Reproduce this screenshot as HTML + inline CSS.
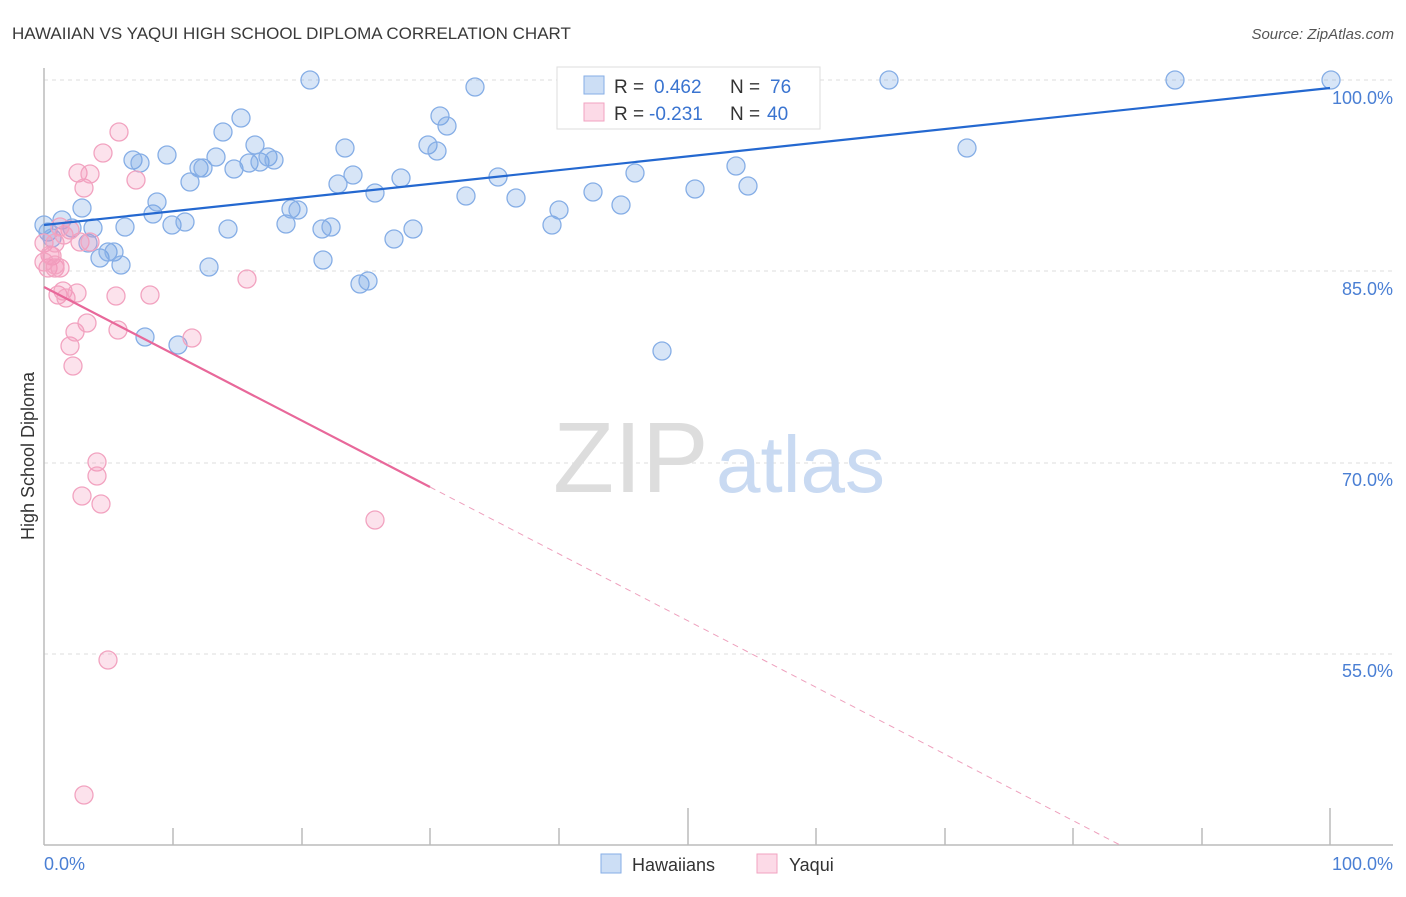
<!DOCTYPE html>
<html><head><meta charset="utf-8"><style>
body{margin:0;background:#fff;}
svg text{font-family:"Liberation Sans",sans-serif;}
</style></head><body>
<svg width="1406" height="892" xmlns="http://www.w3.org/2000/svg">
<rect width="1406" height="892" fill="#fff"/>
<text x="12" y="39" font-size="17" fill="#3a3a3a">HAWAIIAN VS YAQUI HIGH SCHOOL DIPLOMA CORRELATION CHART</text>
<text x="1394" y="39" font-size="15" fill="#555" text-anchor="end" font-style="italic">Source: ZipAtlas.com</text>
<g stroke="#ddd" stroke-dasharray="4,4" stroke-width="1">
<line x1="44" y1="80" x2="1393" y2="80"/><line x1="44" y1="271" x2="1393" y2="271"/>
<line x1="44" y1="463" x2="1393" y2="463"/><line x1="44" y1="654" x2="1393" y2="654"/>
</g>
<g stroke="#bbb" stroke-width="1.5">
<line x1="44" y1="68" x2="44" y2="845"/><line x1="44" y1="845" x2="1393" y2="845"/>
<line x1="173" y1="828" x2="173" y2="845"/><line x1="302" y1="828" x2="302" y2="845"/><line x1="430" y1="828" x2="430" y2="845"/><line x1="559" y1="828" x2="559" y2="845"/><line x1="688" y1="808" x2="688" y2="845"/><line x1="816" y1="828" x2="816" y2="845"/><line x1="945" y1="828" x2="945" y2="845"/><line x1="1073" y1="828" x2="1073" y2="845"/><line x1="1202" y1="828" x2="1202" y2="845"/><line x1="1330" y1="808" x2="1330" y2="845"/>
</g>
<g font-size="18" fill="#4a7fd4" text-anchor="end">
<text x="1393" y="104">100.0%</text><text x="1393" y="295">85.0%</text><text x="1393" y="486">70.0%</text><text x="1393" y="677">55.0%</text>
</g>
<text x="44" y="870" font-size="18" fill="#4a7fd4">0.0%</text>
<text x="1393" y="870" font-size="18" fill="#4a7fd4" text-anchor="end">100.0%</text>
<text transform="translate(34,456) rotate(-90)" font-size="18" fill="#333" text-anchor="middle">High School Diploma</text>
<text x="553" y="492" font-size="100" fill="#ddd" font-family="Liberation Serif,serif">ZIP</text>
<text x="716" y="492" font-size="80" fill="#c9daf2">atlas</text>
<g fill="rgba(110,160,225,0.28)" stroke="#86aee6" stroke-width="1.3">
<circle cx="44" cy="225" r="9"/><circle cx="48" cy="232" r="9"/><circle cx="52" cy="238" r="9"/><circle cx="62" cy="220" r="9"/><circle cx="72" cy="228" r="9"/><circle cx="82" cy="208" r="9"/><circle cx="88" cy="243" r="9"/><circle cx="93" cy="228" r="9"/><circle cx="100" cy="258" r="9"/><circle cx="108" cy="252" r="9"/><circle cx="114" cy="252" r="9"/><circle cx="121" cy="265" r="9"/><circle cx="125" cy="227" r="9"/><circle cx="133" cy="160" r="9"/><circle cx="140" cy="163" r="9"/><circle cx="145" cy="337" r="9"/><circle cx="153" cy="214" r="9"/><circle cx="157" cy="202" r="9"/><circle cx="167" cy="155" r="9"/><circle cx="172" cy="225" r="9"/><circle cx="178" cy="345" r="9"/><circle cx="185" cy="222" r="9"/><circle cx="190" cy="182" r="9"/><circle cx="199" cy="168" r="9"/><circle cx="203" cy="168" r="9"/><circle cx="209" cy="267" r="9"/><circle cx="216" cy="157" r="9"/><circle cx="223" cy="132" r="9"/><circle cx="228" cy="229" r="9"/><circle cx="234" cy="169" r="9"/><circle cx="241" cy="118" r="9"/><circle cx="249" cy="163" r="9"/><circle cx="255" cy="145" r="9"/><circle cx="260" cy="162" r="9"/><circle cx="268" cy="157" r="9"/><circle cx="274" cy="160" r="9"/><circle cx="286" cy="224" r="9"/><circle cx="291" cy="209" r="9"/><circle cx="298" cy="210" r="9"/><circle cx="310" cy="80" r="9"/><circle cx="322" cy="229" r="9"/><circle cx="323" cy="260" r="9"/><circle cx="331" cy="227" r="9"/><circle cx="338" cy="184" r="9"/><circle cx="345" cy="148" r="9"/><circle cx="353" cy="175" r="9"/><circle cx="360" cy="284" r="9"/><circle cx="368" cy="281" r="9"/><circle cx="375" cy="193" r="9"/><circle cx="394" cy="239" r="9"/><circle cx="401" cy="178" r="9"/><circle cx="413" cy="229" r="9"/><circle cx="428" cy="145" r="9"/><circle cx="437" cy="151" r="9"/><circle cx="440" cy="116" r="9"/><circle cx="447" cy="126" r="9"/><circle cx="466" cy="196" r="9"/><circle cx="475" cy="87" r="9"/><circle cx="498" cy="177" r="9"/><circle cx="516" cy="198" r="9"/><circle cx="552" cy="225" r="9"/><circle cx="559" cy="210" r="9"/><circle cx="593" cy="192" r="9"/><circle cx="621" cy="205" r="9"/><circle cx="635" cy="173" r="9"/><circle cx="662" cy="351" r="9"/><circle cx="668" cy="80" r="9"/><circle cx="695" cy="189" r="9"/><circle cx="736" cy="166" r="9"/><circle cx="748" cy="186" r="9"/><circle cx="889" cy="80" r="9"/><circle cx="967" cy="148" r="9"/><circle cx="1175" cy="80" r="9"/><circle cx="1331" cy="80" r="9"/>
</g>
<g fill="rgba(245,150,185,0.28)" stroke="#f2a3c0" stroke-width="1.3">
<circle cx="44" cy="243" r="9"/><circle cx="48" cy="268" r="9"/><circle cx="52" cy="256" r="9"/><circle cx="55" cy="268" r="9"/><circle cx="58" cy="295" r="9"/><circle cx="60" cy="268" r="9"/><circle cx="63" cy="291" r="9"/><circle cx="66" cy="298" r="9"/><circle cx="70" cy="346" r="9"/><circle cx="73" cy="366" r="9"/><circle cx="75" cy="332" r="9"/><circle cx="78" cy="173" r="9"/><circle cx="80" cy="242" r="9"/><circle cx="82" cy="496" r="9"/><circle cx="84" cy="188" r="9"/><circle cx="87" cy="323" r="9"/><circle cx="90" cy="174" r="9"/><circle cx="97" cy="462" r="9"/><circle cx="97" cy="476" r="9"/><circle cx="101" cy="504" r="9"/><circle cx="103" cy="153" r="9"/><circle cx="108" cy="660" r="9"/><circle cx="84" cy="795" r="9"/><circle cx="116" cy="296" r="9"/><circle cx="118" cy="330" r="9"/><circle cx="119" cy="132" r="9"/><circle cx="136" cy="180" r="9"/><circle cx="150" cy="295" r="9"/><circle cx="192" cy="338" r="9"/><circle cx="247" cy="279" r="9"/><circle cx="375" cy="520" r="9"/><circle cx="50" cy="255" r="9"/><circle cx="55" cy="243" r="9"/><circle cx="64" cy="235" r="9"/><circle cx="70" cy="230" r="9"/><circle cx="77" cy="293" r="9"/><circle cx="90" cy="242" r="9"/><circle cx="44" cy="262" r="9"/><circle cx="60" cy="227" r="9"/><circle cx="55" cy="265" r="9"/>
</g>
<line x1="44" y1="225" x2="1330" y2="88" stroke="#2468d0" stroke-width="2.2"/>
<line x1="44" y1="287" x2="430" y2="487" stroke="#e8689a" stroke-width="2.2"/>
<line x1="430" y1="487" x2="1120" y2="845" stroke="#eea0bd" stroke-width="1" stroke-dasharray="6,5"/>
<rect x="557" y="67" width="263" height="62" fill="#fff" stroke="#ddd"/>
<rect x="584" y="76" width="20" height="18" fill="rgba(110,160,225,0.35)" stroke="#86aee6"/>
<rect x="584" y="103" width="20" height="18" fill="rgba(245,150,185,0.35)" stroke="#f2a3c0"/>
<g font-size="19">
<text x="614" y="93" fill="#333">R = </text><text x="654" y="93" fill="#3a74d0">0.462</text>
<text x="730" y="93" fill="#333">N = </text><text x="770" y="93" fill="#3a74d0">76</text>
<text x="614" y="120" fill="#333">R = </text><text x="649" y="120" fill="#3a74d0">-0.231</text>
<text x="730" y="120" fill="#333">N = </text><text x="767" y="120" fill="#3a74d0">40</text>
</g>
<rect x="601" y="854" width="20" height="19" fill="rgba(110,160,225,0.35)" stroke="#86aee6"/>
<text x="632" y="871" font-size="18" fill="#333">Hawaiians</text>
<rect x="757" y="854" width="20" height="19" fill="rgba(245,150,185,0.35)" stroke="#f2a3c0"/>
<text x="789" y="871" font-size="18" fill="#333">Yaqui</text>
</svg>
</body></html>
